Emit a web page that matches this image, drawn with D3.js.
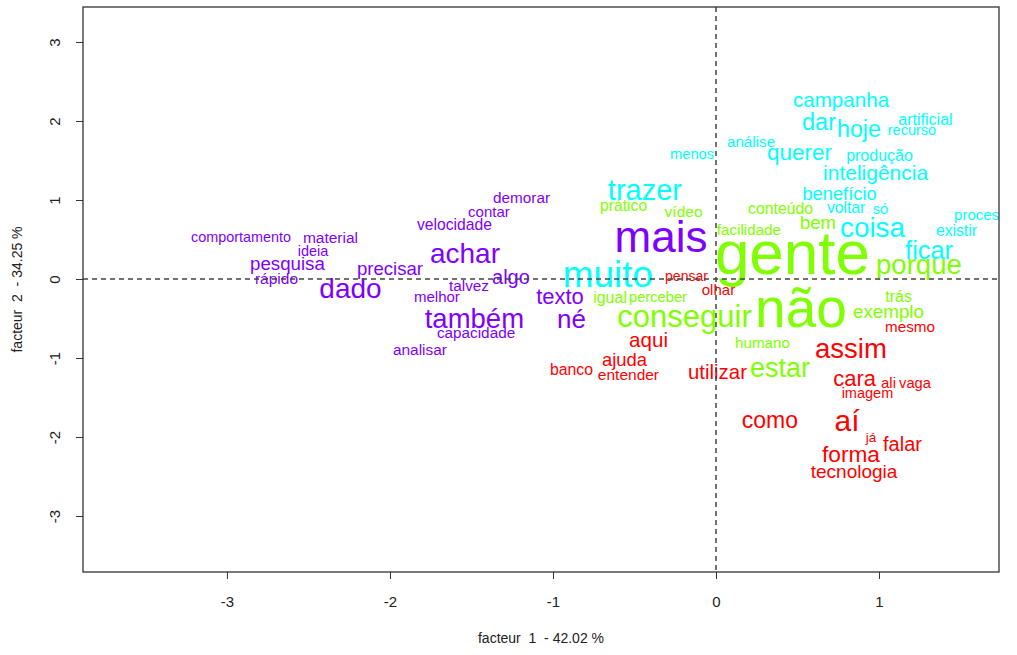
<!DOCTYPE html>
<html>
<head>
<meta charset="utf-8">
<script src="https://cdn.jsdelivr.net/npm/d3@7"></script>
<style>
  body { margin: 0; background: #fff; }
  svg text { font-family: "Liberation Sans", Arial, sans-serif; }
</style>
</head>
<body>
<div id="chart"></div>
<script>
// word, facteur 1, facteur 2, poids (taille relative)
const classeRouge = [
    ["aí", 0.804, -1.797, 30], ["assim", 0.828, -0.873, 27.5], ["como", 0.331, -1.785, 23],
    ["forma", 0.828, -2.215, 22.7], ["cara", 0.850, -1.253, 22], ["aqui", -0.414, -0.767, 20.6],
    ["utilizar", 0.009, -1.177, 20.4], ["ajuda", -0.561, -1.025, 18.4], ["falar", 1.144, -2.089, 20],
    ["tecnologia", 0.847, -2.430, 19], ["banco", -0.887, -1.139, 15.8], ["entender", -0.537, -1.209, 15.5],
    ["pensar", -0.181, 0.038, 14], ["olhar", 0.015, -0.139, 15], ["mesmo", 1.190, -0.601, 15.2],
    ["ali", 1.058, -1.316, 15], ["vaga", 1.221, -1.316, 14.7], ["imagem", 0.929, -1.443, 14.5],
    ["já", 0.951, -2.0, 13.5]
];
const classeVerte = [
    ["gente", 0.469, 0.342, 62], ["não", 0.521, -0.367, 55], ["conseguir", -0.193, -0.468, 31],
    ["porque", 1.245, 0.190, 27.6], ["estar", 0.393, -1.127, 27], ["exemplo", 1.058, -0.405, 18.8],
    ["bem", 0.626, 0.709, 18.5], ["conteúdo", 0.396, 0.899, 15.8], ["facilidade", 0.202, 0.627, 15.2],
    ["prático", -0.567, 0.924, 15.7], ["vídeo", -0.199, 0.854, 15.5], ["igual", -0.650, -0.228, 16],
    ["perceber", -0.356, -0.228, 14.7], ["trás", 1.120, -0.215, 16], ["humano", 0.285, -0.804, 15.2]
];
const classeCyan = [
    ["muito", -0.663, 0.063, 37], ["trazer", -0.436, 1.133, 29], ["coisa", 0.960, 0.658, 27.8],
    ["ficar", 1.307, 0.367, 25.4], ["dar", 0.632, 1.994, 23.5], ["hoje", 0.877, 1.904, 23.3],
    ["querer", 0.512, 1.608, 22.5], ["inteligência", 0.979, 1.348, 21], ["campanha", 0.767, 2.271, 20.6],
    ["benefício", 0.758, 1.082, 18.3], ["produção", 1.003, 1.570, 16], ["artificial", 1.285, 2.025, 16],
    ["recurso", 1.202, 1.886, 14.5], ["análise", 0.215, 1.741, 15.2], ["menos", -0.147, 1.582, 14.7],
    ["voltar", 0.798, 0.905, 15.7], ["só", 1.009, 0.886, 14.5], ["existir", 1.475, 0.608, 15.7],
    ["processo", 1.647, 0.816, 15]
];
const classeViolette = [
    ["mais", -0.337, 0.532, 44], ["achar", -1.540, 0.329, 28], ["dado", -2.242, -0.114, 28],
    ["também", -1.482, -0.494, 27.5], ["né", -0.887, -0.506, 26], ["texto", -0.957, -0.215, 22],
    ["algo", -1.258, 0.025, 20], ["pesquisa", -2.629, 0.203, 18.7], ["precisar", -2.0, 0.139, 18.6],
    ["comportamento", -2.914, 0.532, 14.4], ["material", -2.365, 0.519, 15.5], ["ideia", -2.472, 0.354, 14.5],
    ["rápido", -2.696, 0.006, 15.5], ["velocidade", -1.604, 0.684, 15.7], ["contar", -1.393, 0.848, 15],
    ["demorar", -1.193, 1.025, 15.3], ["talvez", -1.515, -0.082, 15.3], ["melhor", -1.712, -0.228, 15],
    ["capacidade", -1.472, -0.677, 15.3], ["analisar", -1.816, -0.892, 15.4]
];
const classes = [classeRouge, classeVerte, classeCyan, classeViolette];
const classColors = ["#FF0000", "#80FF00", "#00FFFF", "#8000FF"];

const xTicks = [-3, -2, -1, 0, 1];
const yTicks = [-3, -2, -1, 0, 1, 2, 3];
const xTitle = "facteur  1  - 42.02 %";
const yTitle = "facteur  2  - 34.25 %";

const width = 1017;
const height = 655;
const margin = { top: 7, right: 18, bottom: 83, left: 83 };

const svg = d3.select("#chart")
    .append("svg")
    .attr("width", width)
    .attr("height", height);

const x = d3.scaleLinear().domain([-3.883, 1.736]).range([margin.left, width - margin.right]);
const y = d3.scaleLinear().domain([3.443, -3.709]).range([margin.top, height - margin.bottom]);
const fontScale = d3.scaleLinear().domain([0, 100]).range([0, 100]);

svg.append("clipPath")
    .attr("id", "plotClip")
    .append("rect")
    .attr("x", x.range()[0])
    .attr("y", y.range()[0])
    .attr("width", x.range()[1] - x.range()[0])
    .attr("height", y.range()[1] - y.range()[0]);

const plot = svg.append("g").attr("clip-path", "url(#plotClip)");

// words, coloured by class
const words = classes.flatMap((cl, i) => cl.map(d => ({ word: d[0], f1: d[1], f2: d[2], poids: d[3], classe: i })));

plot.selectAll("text.word")
    .data(words)
    .enter()
    .append("text")
    .attr("class", "word")
    .attr("x", d => x(d.f1))
    .attr("y", d => y(d.f2))
    .attr("dy", "0.35em")
    .attr("text-anchor", "middle")
    .style("font-size", d => fontScale(d.poids) + "px")
    .attr("fill", d => classColors[d.classe])
    .text(d => d.word);

// dashed lines through the origin
plot.append("line")
    .attr("x1", x(0)).attr("x2", x(0))
    .attr("y1", y.range()[0]).attr("y2", y.range()[1])
    .attr("stroke", "#444").attr("stroke-width", 1.5).attr("stroke-dasharray", "5,4");
plot.append("line")
    .attr("x1", x.range()[0]).attr("x2", x.range()[1])
    .attr("y1", y(0)).attr("y2", y(0))
    .attr("stroke", "#444").attr("stroke-width", 1.5).attr("stroke-dasharray", "5,4");

// axes (plain hyphen for negatives, like R)
const tickFmt = d => String(d);

const xAxis = svg.append("g")
    .attr("transform", `translate(0, ${y.range()[1]})`)
    .call(d3.axisBottom(x).tickValues(xTicks).tickSize(7).tickSizeOuter(0).tickPadding(17).tickFormat(tickFmt));
xAxis.select(".domain").remove();
xAxis.selectAll("text").style("font-size", "15px").attr("fill", "#222");
xAxis.selectAll("line").attr("stroke", "#333");

const yAxis = svg.append("g")
    .attr("transform", `translate(${x.range()[0]}, 0)`)
    .call(d3.axisLeft(y).tickValues(yTicks).tickSize(7).tickSizeOuter(0).tickFormat(tickFmt));
yAxis.select(".domain").remove();
yAxis.selectAll("line").attr("stroke", "#333");
yAxis.selectAll("text")
    .attr("x", null)
    .attr("text-anchor", "middle")
    .attr("transform", "translate(-28, 0) rotate(-90)")
    .attr("dy", "0.35em")
    .style("font-size", "15px")
    .attr("fill", "#222");

// plot box
svg.append("rect")
    .attr("x", x.range()[0])
    .attr("y", y.range()[0])
    .attr("width", x.range()[1] - x.range()[0])
    .attr("height", y.range()[1] - y.range()[0])
    .attr("fill", "none")
    .attr("stroke", "#333")
    .attr("stroke-width", 1.3);

// axis titles
svg.append("text")
    .attr("x", (x.range()[0] + x.range()[1]) / 2)
    .attr("y", 643)
    .attr("text-anchor", "middle")
    .style("font-size", "14px")
    .style("white-space", "pre")
    .attr("fill", "#222")
    .text(xTitle);

svg.append("text")
    .attr("transform", `translate(22, ${(y.range()[0] + y.range()[1]) / 2}) rotate(-90)`)
    .attr("text-anchor", "middle")
    .style("font-size", "14px")
    .style("white-space", "pre")
    .attr("fill", "#222")
    .text(yTitle);
</script>
</body>
</html>
